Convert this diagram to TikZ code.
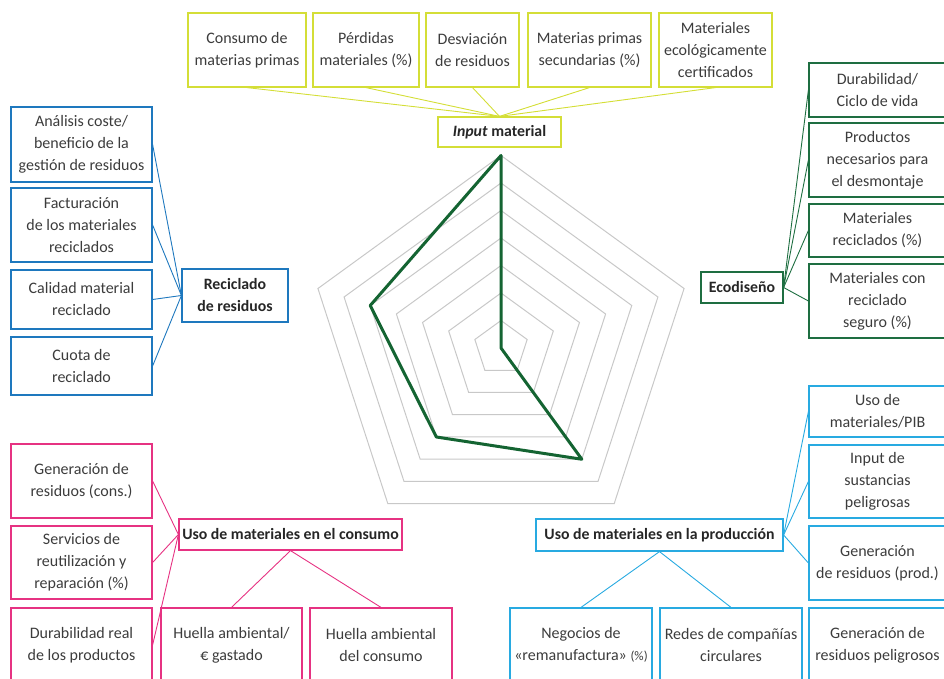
\documentclass[tikz,border=0pt]{standalone}
\usepackage{fontspec}
\setmainfont{Carlito}
\usetikzlibrary{positioning}
\definecolor{lima}{RGB}{212,222,55}
\definecolor{azul}{RGB}{30,120,190}
\definecolor{verde}{RGB}{30,110,65}
\definecolor{rosa}{RGB}{230,50,130}
\definecolor{celeste}{RGB}{40,170,225}
\definecolor{datos}{RGB}{20,100,50}
\definecolor{rejilla}{RGB}{200,200,200}
\definecolor{texto}{RGB}{60,60,60}
\tikzset{
    % cajas de indicadores y cabeceras de cada grupo
    caja/.style={draw,line width=1.2pt,align=center,inner sep=0pt,
        font=\fontsize{16}{22}\selectfont,text=texto},
    cabeza/.style={caja,font=\fontsize{15.8}{22}\selectfont\bfseries,text=black!85},
    enlace/.style={line width=0.9pt},
}
\begin{document}
\begin{tikzpicture}[x=1pt,y=-1pt]
    \useasboundingbox (0,0) rectangle (944,679);
    \clip (0,0) rectangle (944,679);
    % radar
    \begin{scope}[shift={(501,348)}]
    \foreach \r in {1,...,7}
    \draw[rejilla,line width=1pt] (-90:27.5*\r) -- (-18:27.5*\r) -- (54:27.5*\r) -- (126:27.5*\r) -- (198:27.5*\r) -- cycle;
    \draw[datos,line width=3pt,line join=round] (-90:192.5) -- (0,0) -- (54:137.5) -- (126:110) -- (198:137.5) -- cycle;
    \end{scope}

    % input material
    \node[caja,draw=lima,minimum width=118pt,minimum height=74pt] (consumo) at (247,50) {Consumo de\\materias primas};
    \node[caja,draw=lima,minimum width=106pt,minimum height=74pt] (perdidas) at (366,50) {Pérdidas\\materiales (\%)};
    \node[caja,draw=lima,minimum width=93pt,minimum height=74pt] (desviacion) at (472.5,50) {Desviación\\de residuos};
    \node[caja,draw=lima,minimum width=123pt,minimum height=74pt] (secundarias) at (589.5,50) {Materias primas\\secundarias (\%)};
    \node[caja,draw=lima,minimum width=113pt,minimum height=74pt] (ecologicos) at (715.5,50) {Materiales\\ecológicamente\\certificados};
    \node[cabeza,draw=lima,minimum width=123pt,minimum height=30pt] (input) at (499.5,132) {\textit{Input} material};
    \foreach \n in {consumo,perdidas,desviacion,secundarias,ecologicos}
    \draw[enlace,lima] (input.north) -- (\n.south);

    % reciclado
    \node[caja,draw=azul,minimum width=141pt,minimum height=75pt] (analisis) at (81.5,144.5) {Análisis coste/\\beneficio de la\\gestión de residuos};
    \node[caja,draw=azul,minimum width=141pt,minimum height=74pt] (facturacion) at (81.5,225) {Facturación\\de los materiales\\reciclados};
    \node[caja,draw=azul,minimum width=141pt,minimum height=59pt] (calidad) at (81.5,299.5) {Calidad material\\reciclado};
    \node[caja,draw=azul,minimum width=141pt,minimum height=58pt] (cuota) at (81.5,366) {Cuota de\\reciclado};
    \node[cabeza,draw=azul,minimum width=106pt,minimum height=53pt] (reciclado) at (235,295.5) {Reciclado\\de residuos};
    \foreach \n in {analisis,facturacion,calidad,cuota}
    \draw[enlace,azul] (reciclado.west) -- (\n.east);

    % ecodiseno
    \node[caja,draw=verde,minimum width=137pt,minimum height=54pt] (durabilidad) at (877.5,90) {Durabilidad/\\Ciclo de vida};
    \node[caja,draw=verde,minimum width=137pt,minimum height=74pt] (desmontaje) at (877.5,160) {Productos\\necesarios para\\el desmontaje};
    \node[caja,draw=verde,minimum width=137pt,minimum height=53pt] (reciclados) at (877.5,230.5) {Materiales\\reciclados (\%)};
    \node[caja,draw=verde,minimum width=137pt,minimum height=74pt] (seguro) at (877.5,301) {Materiales con\\reciclado\\seguro (\%)};
    \node[cabeza,draw=verde,minimum width=82pt,minimum height=31pt] (ecodiseno) at (742,287.5) {Ecodiseño};
    \foreach \n in {durabilidad,desmontaje,reciclados,seguro}
    \draw[enlace,verde] (ecodiseno.east) -- (\n.west);

    % consumo
    \node[caja,draw=rosa,minimum width=141pt,minimum height=74pt] (genconsumo) at (81.5,481) {Generación de\\residuos (cons.)};
    \node[caja,draw=rosa,minimum width=141pt,minimum height=73pt] (servicios) at (81.5,562.5) {Servicios de\\reutilización y\\reparación (\%)};
    \node[caja,draw=rosa,minimum width=141pt,minimum height=74pt] (durreal) at (81.5,645) {Durabilidad real\\de los productos};
    \node[caja,draw=rosa,minimum width=141pt,minimum height=74pt] (huellagasto) at (231.5,645) {Huella ambiental/\\€ gastado};
    \node[caja,draw=rosa,minimum width=142pt,minimum height=74pt] (huellaconsumo) at (381,645) {Huella ambiental\\del consumo};
    \node[cabeza,draw=rosa,minimum width=223pt,minimum height=31pt] (usoconsumo) at (290.5,534.5) {Uso de materiales en el consumo};
    \foreach \n in {genconsumo,servicios,durreal}
    \draw[enlace,rosa] (usoconsumo.west) -- (\n.east);
    \foreach \n in {huellagasto,huellaconsumo}
    \draw[enlace,rosa] (usoconsumo.south) -- (\n.north);

    % produccion
    \node[caja,draw=celeste,minimum width=137pt,minimum height=51pt] (pib) at (877.5,411.5) {Uso de\\materiales/PIB};
    \node[caja,draw=celeste,minimum width=137pt,minimum height=73pt] (sustancias) at (877.5,481.5) {Input de\\sustancias\\peligrosas};
    \node[caja,draw=celeste,minimum width=137pt,minimum height=74pt] (genprod) at (877.5,563) {Generación\\de residuos (prod.)};
    \node[caja,draw=celeste,minimum width=137pt,minimum height=74pt] (peligrosos) at (877.5,645) {Generación de\\residuos peligrosos};
    \node[caja,draw=celeste,minimum width=142pt,minimum height=74pt] (remanufactura) at (581,645) {Negocios de\\«remanufactura» {\fontsize{13}{22}\selectfont(\%)}};
    \node[caja,draw=celeste,minimum width=142pt,minimum height=74pt] (redes) at (731,645) {Redes de compañías\\circulares};
    \node[cabeza,draw=celeste,minimum width=247pt,minimum height=32pt] (usoproduccion) at (659.5,535) {Uso de materiales en la producción};
    \foreach \n in {pib,sustancias,genprod}
    \draw[enlace,celeste] (usoproduccion.east) -- (\n.west);
    \foreach \n in {remanufactura,redes}
    \draw[enlace,celeste] (usoproduccion.south) -- (\n.north);
\end{tikzpicture}
\end{document}
